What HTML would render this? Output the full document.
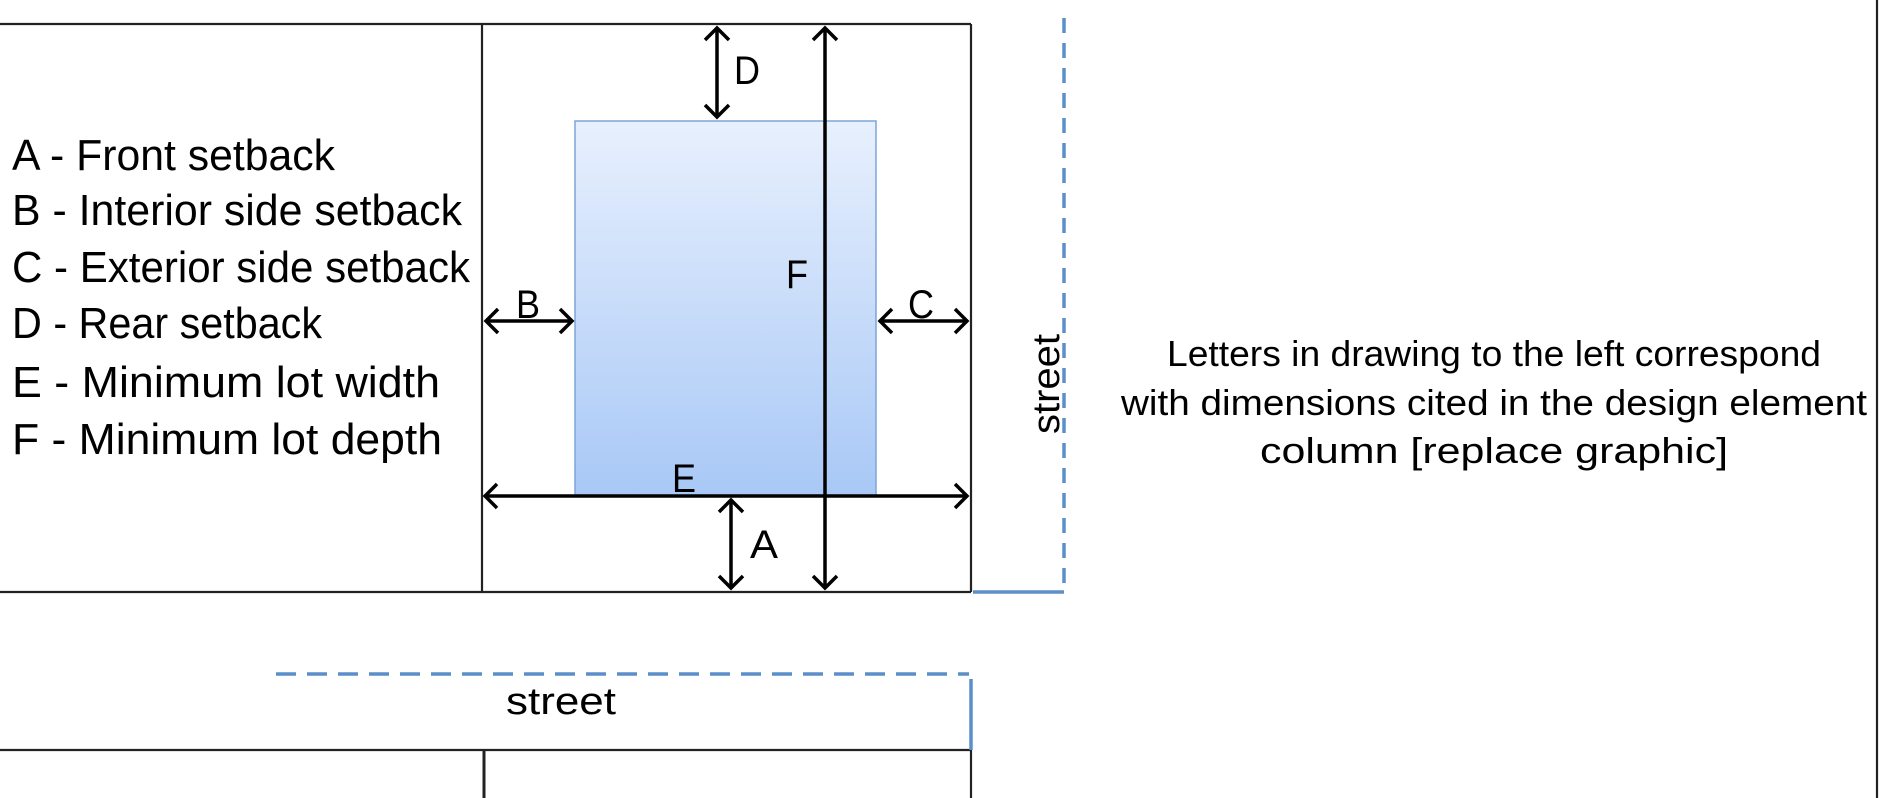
<!DOCTYPE html>
<html><head><style>
html,body{margin:0;padding:0;background:#fff;width:1880px;height:798px;overflow:hidden}
svg text{font-family:"Liberation Sans",sans-serif;fill:#000}
</style></head><body>
<svg width="1880" height="798" viewBox="0 0 1880 798" xmlns="http://www.w3.org/2000/svg">
<defs>
<linearGradient id="g" x1="0" y1="0" x2="0" y2="1">
<stop offset="0" stop-color="#e8f0fd"/><stop offset="1" stop-color="#a8c8f6"/>
</linearGradient>
</defs>
<g stroke="#222" stroke-width="2.2" fill="none">
<line x1="0" y1="24" x2="971" y2="24"/>
<line x1="0" y1="592" x2="971" y2="592"/>
<line x1="482" y1="24" x2="482" y2="592"/>
<line x1="971" y1="24" x2="971" y2="592"/>
<line x1="0" y1="750" x2="971" y2="750"/>
<line x1="484" y1="750" x2="484" y2="798" stroke-width="3"/>
<line x1="971" y1="750" x2="971" y2="798"/>
<line x1="1877" y1="0" x2="1877" y2="798"/>
</g>
<rect x="575" y="121" width="301" height="375" fill="url(#g)" stroke="#7ba5d8" stroke-width="1.5"/>
<g stroke="#000" stroke-width="3.5" fill="none">
<line x1="485" y1="496" x2="967" y2="496"/>
<path d="M497,484 L485,496 L497,508 M955,484 L967,496 L955,508"/>
<line x1="825" y1="28" x2="825" y2="588"/>
<path d="M813,40 L825,28 L837,40 M813,576 L825,588 L837,576"/>
<line x1="717" y1="28" x2="717" y2="117"/>
<path d="M705,40 L717,28 L729,40 M705,105 L717,117 L729,105"/>
<line x1="731" y1="500" x2="731" y2="588"/>
<path d="M719,512 L731,500 L743,512 M719,576 L731,588 L743,576"/>
<line x1="486" y1="321" x2="572" y2="321"/>
<path d="M498,309 L486,321 L498,333 M560,309 L572,321 L560,333"/>
<line x1="880" y1="321" x2="967" y2="321"/>
<path d="M892,309 L880,321 L892,333 M955,309 L967,321 L955,333"/>
</g>
<g font-size="40">
<text x="734" y="84" textLength="26" lengthAdjust="spacingAndGlyphs">D</text>
<text x="786" y="288" textLength="22" lengthAdjust="spacingAndGlyphs">F</text>
<text x="516" y="318" textLength="24" lengthAdjust="spacingAndGlyphs">B</text>
<text x="908" y="318" textLength="26" lengthAdjust="spacingAndGlyphs">C</text>
<text x="672" y="492" textLength="24" lengthAdjust="spacingAndGlyphs">E</text>
<text x="750" y="558" textLength="28" lengthAdjust="spacingAndGlyphs">A</text>
</g>
<g stroke="#5b8fc9" stroke-width="3.5" fill="none">
<line x1="1064" y1="18" x2="1064" y2="592" stroke-dasharray="15,10"/>
<line x1="973" y1="592" x2="1064" y2="592"/>
<line x1="276" y1="674" x2="969" y2="674" stroke-dasharray="20,11"/>
<line x1="971" y1="679" x2="971" y2="750"/>
</g>
<text x="0" y="0" font-size="38" text-anchor="middle" transform="translate(1059,384) rotate(-90)" textLength="100" lengthAdjust="spacingAndGlyphs">street</text>
<text x="561" y="714" font-size="38" text-anchor="middle" textLength="110" lengthAdjust="spacingAndGlyphs">street</text>
<g font-size="44">
<text x="12" y="170" textLength="323" lengthAdjust="spacingAndGlyphs">A - Front setback</text>
<text x="12" y="225" textLength="450" lengthAdjust="spacingAndGlyphs">B - Interior side setback</text>
<text x="12" y="282" textLength="458" lengthAdjust="spacingAndGlyphs">C - Exterior side setback</text>
<text x="12" y="338" textLength="310" lengthAdjust="spacingAndGlyphs">D - Rear setback</text>
<text x="12" y="397" textLength="428" lengthAdjust="spacingAndGlyphs">E - Minimum lot width</text>
<text x="12" y="454" textLength="430" lengthAdjust="spacingAndGlyphs">F - Minimum lot depth</text>
</g>
<g font-size="36" text-anchor="middle">
<text x="1494" y="366" textLength="654" lengthAdjust="spacingAndGlyphs">Letters in drawing to the left correspond</text>
<text x="1494" y="415" textLength="746" lengthAdjust="spacingAndGlyphs">with dimensions cited in the design element</text>
<text x="1494" y="463" textLength="468" lengthAdjust="spacingAndGlyphs">column [replace graphic]</text>
</g>
</svg>
</body></html>
